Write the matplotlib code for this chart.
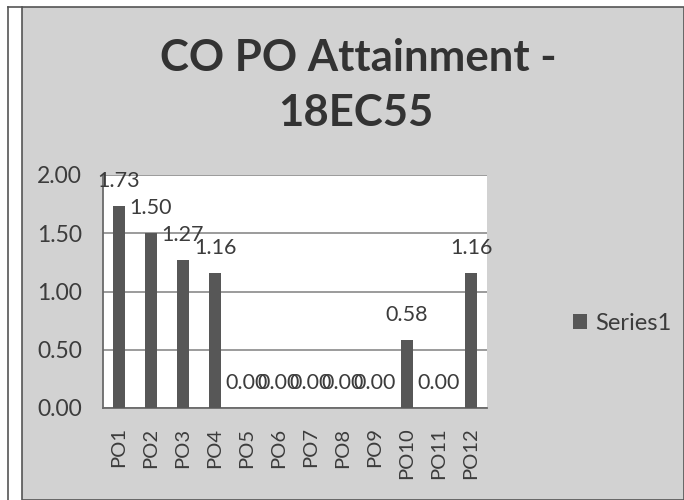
import matplotlib.pyplot as plt
from matplotlib.patches import Rectangle
from matplotlib.lines import Line2D

categories = ["PO1", "PO2", "PO3", "PO4", "PO5", "PO6", "PO7", "PO8", "PO9", "PO10", "PO11", "PO12"]
values = [1.73, 1.50, 1.27, 1.16, 0.00, 0.00, 0.00, 0.00, 0.00, 0.58, 0.00, 1.16]
yticks = [0.00, 0.50, 1.00, 1.50, 2.00]

plt.rcParams['font.family'] = ['Lato', 'DejaVu Sans']
txt = '#3c3c3c'

fig = plt.figure(figsize=(6.84, 5.0), dpi=100)
fig.patch.set_facecolor('white')

# marble-ish chart area and scan frame
W, H = 684, 500
fig.patches.append(Rectangle((22 / W, 0), 1 - 22 / W, (H - 7) / H, transform=fig.transFigure,
                             facecolor='#d2d2d2', edgecolor='#555555', linewidth=1.2, zorder=-5))
fig.lines.append(Line2D([8 / W, 8 / W], [0, (H - 7) / H], transform=fig.transFigure,
                        color='#555555', linewidth=1.2, zorder=-4))
fig.lines.append(Line2D([8 / W, 22 / W], [(H - 7) / H, (H - 7) / H], transform=fig.transFigure,
                        color='#555555', linewidth=1.2, zorder=-4))

ax = fig.add_axes([103 / W, 1 - 408 / H, (487 - 103) / W, (408 - 175) / H])
ax.set_facecolor('white')

x = range(len(categories))
ax.bar(x, values, width=0.38, color='#575757', zorder=3)

# data labels (zeros crowd together, as in the original)
for i, v in enumerate(values):
    ax.annotate(f"{v:.2f}", (i, v), xytext=(0, 18), textcoords='offset points',
                ha='center', va='center', fontsize=15.5, color=txt)

ax.set_ylim(0, 2.0)
ax.set_xlim(-0.5, len(categories) - 0.5)
ax.set_yticks(yticks)
ax.set_yticklabels([f"{t:.2f}" for t in yticks], fontsize=16.5, color=txt)
ax.set_xticks(list(x))
ax.set_xticklabels(categories, rotation=90, fontsize=14.5, color=txt)
ax.tick_params(axis='y', length=0, pad=15)
ax.tick_params(axis='x', length=0, pad=14)
ax.yaxis.grid(True, color='#8a8a8a', linewidth=1.2, zorder=0)
ax.set_axisbelow(True)
for s in ['top', 'right']:
    ax.spines[s].set_visible(False)
ax.spines['left'].set_color('#6a6a6a')
ax.spines['bottom'].set_color('#6a6a6a')
ax.spines['left'].set_linewidth(1.3)
ax.spines['bottom'].set_linewidth(1.3)

fig.text(358 / W, 1 - 58 / H, "CO PO Attainment -", ha='center', va='center',
         fontsize=31.5, fontweight='bold', color='#333333')
fig.text(356 / W, 1 - 113 / H, "18EC55", ha='center', va='center',
         fontsize=31.5, fontweight='bold', color='#333333')

leg = ax.legend(['Series1'], loc='center left', bbox_to_anchor=(552 / W, 1 - 323 / H),
                bbox_transform=fig.transFigure, frameon=False, fontsize=17,
                handlelength=0.6, handleheight=0.6, handletextpad=0.35)
for t in leg.get_texts():
    t.set_color(txt)

fig.savefig('out.png', dpi=100)
